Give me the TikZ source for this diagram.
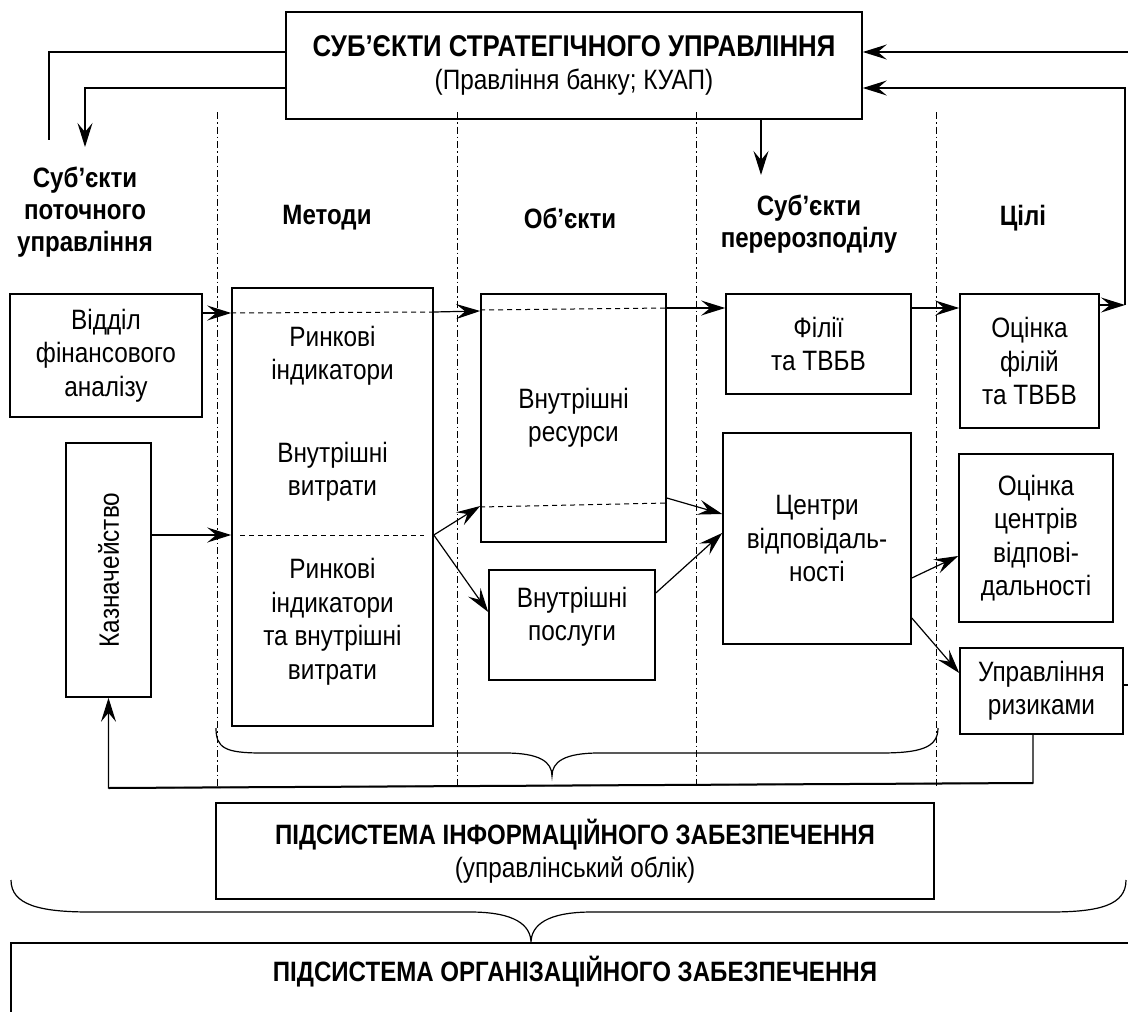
\documentclass[tikz,border=0pt]{standalone}
\usepackage{fontspec}
\setmainfont{Liberation Sans}[FakeStretch=0.87]
\newfontfamily\hbfont{Liberation Sans}[FakeStretch=0.86]
\usetikzlibrary{arrows.meta}
\begin{document}
\begin{tikzpicture}[x=1pt,y=-1pt,
  box/.style={draw, line width=1.6pt, inner sep=0pt, align=center, font=\fontsize{28}{33.5}\selectfont},
  txt/.style={align=center, inner sep=0pt, font=\fontsize{28}{33.5}\selectfont},
  hd/.style={align=center, inner sep=0pt, font=\fontsize{28}{32}\selectfont\hbfont\bfseries},
  arr/.style={line width=1.2pt, -{Stealth[length=24pt,width=15pt,inset=9pt]}},
  ln/.style={line width=1.2pt},
  sep/.style={line width=0.9pt, dash pattern=on 7pt off 3pt on 1.5pt off 3pt},
  dsh/.style={line width=1pt, dash pattern=on 5pt off 4pt},
]
\useasboundingbox (0,0) rectangle (1128,1012);

% separators
\foreach \sx in {217,457,696,936} \draw[sep] (\sx,112) -- (\sx,788);

% top box
\node[box, minimum width=576pt, minimum height=107pt] (top) at (574,65.5)
  {{\hbfont\bfseries\fontsize{30}{34}\selectfont СУБ’ЄКТИ СТРАТЕГІЧНОГО УПРАВЛІННЯ}\\(Правління банку; КУАП)};

% headers
\node[hd] (h1) at (85,212) {Суб’єкти\\поточного\\управління};
\node[hd] (h2) at (327,218) {Методи};
\node[hd] (h3) at (570,218) {Об’єкти};
\node[hd] (h4) at (809,224) {Суб’єкти\\перерозподілу};
\node[hd] (h5) at (1023,218) {Цілі};

% left column
\node[box, minimum width=192pt, minimum height=123pt] (vid) at (106,355.5) {Відділ\\фінансового\\аналізу};
\node[box, minimum width=85pt, minimum height=254pt] (kaz) at (108.5,570) {};
\node[txt, rotate=90] (kazt) at (kaz.center) {Казначейство};

% methods
\node[box, minimum width=201pt, minimum height=438pt] (meth) at (332.5,507) {};
\node[txt] (m1) at (332.5,356) {Ринкові\\індикатори};
\node[txt] (m2) at (332.5,472) {Внутрішні\\витрати};
\node[txt] (m3) at (332.5,622) {Ринкові\\індикатори\\та внутрішні\\витрати};
\draw[dsh] (240,535) -- (424,535);

% objects
\node[box, minimum width=185pt, minimum height=248pt] (obj) at (573.5,418) {Внутрішні\\ресурси};
\node[box, minimum width=166pt, minimum height=110pt] (serv) at (572,625) {};
\node[txt] (servt) at (572,617) {Внутрішні\\послуги};

% redistribution subjects
\node[box, minimum width=185pt, minimum height=100pt] (fil) at (818.5,344) {Філії\\та ТВБВ};
\node[box, minimum width=188pt, minimum height=211pt] (centr) at (817,538.5) {Центри\\відповідаль-\\ності};

% goals
\node[box, minimum width=139pt, minimum height=134pt] (of) at (1029.5,361) {Оцінка\\філій\\та ТВБВ};
\node[box, minimum width=154pt, minimum height=168pt] (oc) at (1036,538) {Оцінка\\центрів\\відпові-\\дальності};
\node[box, minimum width=163pt, minimum height=86pt] (risk) at (1041.5,691) {Управління\\ризиками};

% info subsystem
\node[box, minimum width=718pt, minimum height=96pt] (info) at (575,851)
  {{\hbfont\bfseries\fontsize{28}{34}\selectfont ПІДСИСТЕМА ІНФОРМАЦІЙНОГО ЗАБЕЗПЕЧЕННЯ}\\(управлінський облік)};

% org subsystem
\draw[line width=1.6pt] (1130,943) -- (11,943) -- (11,1014);
\node[hd] (org) at (575,972) {ПІДСИСТЕМА ОРГАНІЗАЦІЙНОГО ЗАБЕЗПЕЧЕННЯ};

% connectors at top
\coordinate (lend) at (49,140);
\coordinate (ltip) at (85,147);
\coordinate (rin) at (1128,52);
\coordinate (rcor) at (1125,305);
\coordinate (dtip) at (761,175);
\draw[ln] (top.west |- 0,52) -| (lend);
\draw[arr] (top.west |- 0,88) -| (ltip);
\draw[arr] (rin) -- (top.east |- 0,52);
\draw[arr] (of.east |- 0,305) -- (rcor);
\draw[arr] (rcor) |- (top.east |- 0,88);
\draw[arr] (top.south -| dtip) -- (dtip);

% main flow
\draw[arr] (vid.east |- 0,313) -- (meth.west |- 0,313);
\draw[dsh] (meth.west |- 0,313) -- (meth.east |- 0,312);
\draw[arr] (meth.east |- 0,312) -- (obj.west |- 0,311);
\draw[dsh] (obj.west |- 0,310) -- (obj.east |- 0,308);
\draw[arr] (obj.east |- 0,308) -- (fil.west |- 0,308);
\draw[arr] (fil.east |- 0,308) -- (of.west |- 0,308);

\draw[arr] (kaz.east |- 0,535) -- (meth.west |- 0,535);
\draw[arr] (meth.east |- 0,535) -- (obj.west |- 0,506);
\draw[arr] (meth.east |- 0,535) -- (serv.west |- 0,612);
\draw[dsh] (obj.west |- 0,507) -- (obj.east |- 0,503);
\draw[arr] (obj.east |- 0,498) -- (centr.west |- 0,514);
\draw[arr] (serv.east |- 0,593) -- (centr.west |- 0,533);
\draw[arr] (centr.east |- 0,578) -- (oc.west |- 0,556);
\draw[arr] (centr.east |- 0,618) -- (risk.west |- 0,673);

% right stub
\coordinate (rstub) at (1128,685);
\draw[ln] (risk.east |- rstub) -- (rstub);

% feedback
\coordinate (fb1) at (1033,783);
\coordinate (fb2) at (108.5,788);
\draw[arr] (risk.south -| fb1) -- (fb1) -- (fb2) -- (kaz.south);
\draw[line width=2pt] (fb1) -- (fb2);

% braces
\draw[line width=1.2pt] (216,728) .. controls (216,748) and (225,753) .. (262,753) -- (505,753)
  .. controls (540,753) and (552,762) .. (552,776)
  .. controls (552,762) and (564,753) .. (599,753) -- (880,753)
  .. controls (920,753) and (938,748) .. (938,728);
\draw[line width=1.2pt] (11,880) .. controls (11,905) and (40,912) .. (90,912) -- (470,912)
  .. controls (515,912) and (531,925) .. (531,943)
  .. controls (531,925) and (547,912) .. (592,912) -- (1050,912)
  .. controls (1100,912) and (1126,905) .. (1126,880);
\end{tikzpicture}
\end{document}
